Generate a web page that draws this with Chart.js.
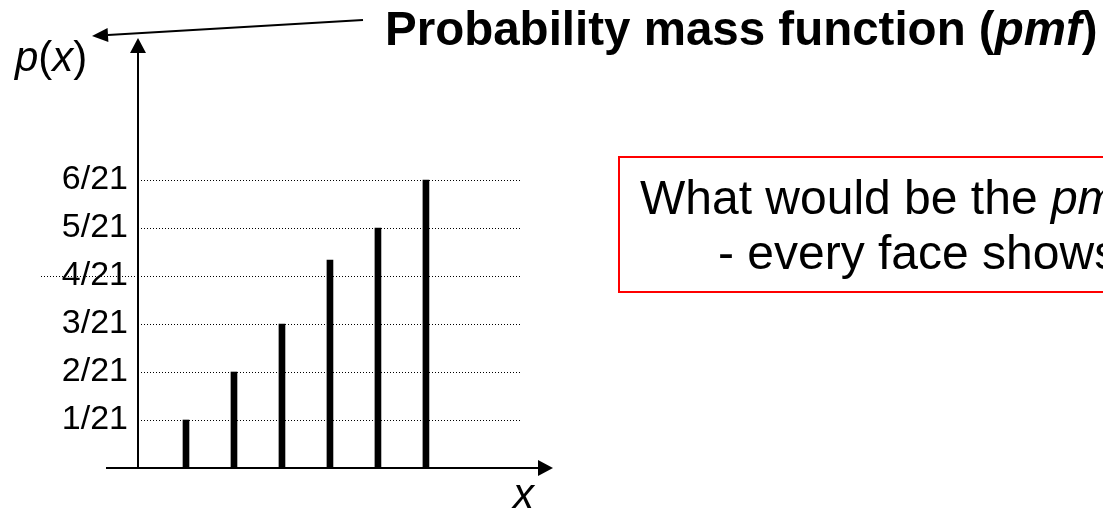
<!DOCTYPE html>
<html>
<head>
<meta charset="utf-8">
<title>pmf</title>
<script src="https://cdn.jsdelivr.net/npm/chart.js@4/dist/chart.umd.min.js"></script>
<style>
  html, body { margin: 0; padding: 0; background: #fff; overflow: hidden; }
  #stage { position: relative; width: 1103px; height: 512px; overflow: hidden;
           font-family: "Liberation Sans", Arial, sans-serif; color: #000; }
  #chartBox { position: absolute; left: 0; top: 0; width: 1103px; height: 512px; }
  .txt { position: absolute; white-space: nowrap; }
  .title { left: 385px; top: 5px; font-size: 47.5px; line-height: 47px; font-weight: bold; }
  .ylab { left: 15px; top: 36px; font-size: 42px; line-height: 41px; }
  .xlab { left: 513px; top: 473px; font-size: 42px; line-height: 41px; font-style: italic; }
  .question { left: 618px; top: 156px; width: 640px; height: 137px; box-sizing: border-box;
              border: 2px solid #ff0000; padding: 12px 0 0 20px; font-size: 48px; line-height: 55px; }
  .question .dash { padding-left: 78px; }
</style>
</head>
<body>
<div id="stage">
  <div id="chartBox"><canvas id="pmfChart"></canvas></div>
  <div class="txt title">Probability mass function (<i>pmf</i>)</div>
  <div class="txt ylab"><i>p</i>(<i>x</i>)</div>
  <div class="txt xlab">x</div>
  <div class="txt question">What would be the <i>pmf</i><br><span class="dash">- every face shows</span></div>
</div>

<script>
// die faces and their probabilities
var faces = [1, 2, 3, 4, 5, 6];
var pmfValues = [1/21, 2/21, 3/21, 4.33/21, 5/21, 6/21];

// y axis ticks
var tickValues = [1/21, 2/21, 3/21, 4/21, 5/21, 6/21];
var tickLabels = ['1/21', '2/21', '3/21', '4/21', '5/21', '6/21'];

Chart.defaults.font.family = '"Liberation Sans", Arial, sans-serif';
Chart.defaults.color = '#000';

function drawArrow(ctx, x1, y1, x2, y2, headLen, headHalf) {
  var ang = Math.atan2(y2 - y1, x2 - x1);
  var bx = x2 - headLen * Math.cos(ang), by = y2 - headLen * Math.sin(ang);
  ctx.beginPath();
  ctx.moveTo(x1, y1);
  ctx.lineTo(bx, by);
  ctx.stroke();
  ctx.beginPath();
  ctx.moveTo(x2, y2);
  ctx.lineTo(bx + headHalf * Math.sin(ang), by - headHalf * Math.cos(ang));
  ctx.lineTo(bx - headHalf * Math.sin(ang), by + headHalf * Math.cos(ang));
  ctx.closePath();
  ctx.fill();
}

// axes with arrow heads, the pointer from the title, and the long 4/21 line
var axesPlugin = {
  id: 'axesArrows',
  afterDraw: function(chart) {
    var ctx = chart.ctx, area = chart.chartArea;
    var xs = chart.scales.x, ys = chart.scales.y;
    var x0 = xs.getPixelForValue(0), y0 = ys.getPixelForValue(0);
    ctx.save();

    // 4/21 line runs under its label
    var y4 = Math.round(ys.getPixelForValue(tickValues[3])) + 0.5;
    ctx.strokeStyle = '#000';
    ctx.lineWidth = 1;
    ctx.setLineDash([1, 2]);
    ctx.beginPath();
    ctx.moveTo(41, y4);
    ctx.lineTo(x0, y4);
    ctx.stroke();
    ctx.setLineDash([]);

    ctx.fillStyle = '#000';
    ctx.lineWidth = 2;
    drawArrow(ctx, x0, y0, x0, area.top, 15, 8);
    drawArrow(ctx, x0 - 32, y0, area.right + 33, y0, 15, 8);
    drawArrow(ctx, 363, 20, 92, 36, 16, 7);
    ctx.restore();
  }
};

new Chart(document.getElementById('pmfChart'), {
  type: 'bar',
  data: {
    datasets: [{
      data: faces.map(function(f, i) { return { x: f, y: pmfValues[i] }; }),
      backgroundColor: '#000',
      borderWidth: 0,
      barThickness: 6
    }]
  },
  options: {
    responsive: true,
    maintainAspectRatio: false,
    animation: false,
    layout: { padding: { left: 0, top: 38, right: 583, bottom: 44 } },
    plugins: { legend: { display: false }, tooltip: { enabled: false } },
    scales: {
      x: {
        type: 'linear',
        display: false,
        offset: false,
        min: 0,
        max: 7.96
      },
      y: {
        min: 0,
        max: 8.96 / 21,
        afterFit: function(scale) { scale.width = 138; },
        afterBuildTicks: function(scale) {
          scale.ticks = tickValues.map(function(v) { return { value: v }; });
        },
        ticks: {
          autoSkip: false,
          padding: 10,
          font: { size: 34 },
          color: '#000',
          callback: function(v) {
            var i = tickValues.indexOf(v);
            return i >= 0 ? tickLabels[i] : '';
          }
        },
        grid: { drawTicks: false, color: '#000', lineWidth: 1 },
        border: { display: false, dash: [1, 2] }
      }
    }
  },
  plugins: [axesPlugin]
});
</script>
</body>
</html>
